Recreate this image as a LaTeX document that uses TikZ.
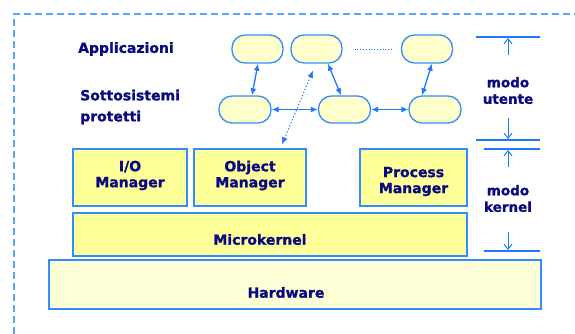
\documentclass[tikz,border=0pt]{standalone}
\usepackage{fontspec}
\setmainfont{DejaVu Sans}[BoldFeatures={FakeBold=1.2}]
\usetikzlibrary{arrows.meta,calc}
\definecolor{navy}{RGB}{10,10,128}
\definecolor{lblue}{RGB}{30,120,255}
\definecolor{bblue}{RGB}{51,140,255}
\definecolor{yel}{RGB}{255,255,153}
\definecolor{pyel}{RGB}{255,255,204}
\definecolor{hyel}{RGB}{255,255,215}
\begin{document}
\begin{tikzpicture}[x=1pt,y=1pt,
  txt/.style={text=navy,font=\bfseries\fontsize{14}{16}\selectfont,align=center,inner sep=0pt},
  modo/.style={text=navy,font=\bfseries\fontsize{13.5}{16.5}\selectfont,align=center,inner sep=0pt},
  pill/.style={draw=bblue,line width=1.3pt,fill=pyel,rounded corners=13pt,minimum width=51pt,minimum height=28pt,inner sep=0pt},
  layer/.style={draw=bblue,line width=1.3pt,fill=yel,inner sep=0pt},
  dbl/.style={{Latex[length=7pt,width=6pt]}-{Latex[length=7pt,width=6pt]},draw=lblue,line width=1.3pt},
  modearrow/.style={-{Straight Barb[length=5pt,width=8pt]},draw=lblue,line width=1pt},
  hline/.style={draw=lblue,line width=1.1pt}]
\useasboundingbox (0,0) rectangle (575,334);
\draw[draw=bblue!80,line width=1.3pt,dash pattern=on 7pt off 4pt] (14,0) -- (14,320) -- (575,320);
% left labels
\node[txt,anchor=west] (app) at (78,285) {Applicazioni};
\node[txt,anchor=west,align=left,font=\bfseries\fontsize{14}{21}\selectfont] (sotto) at (80,227) {Sottosistemi\\protetti};
% pills
\node[pill] (t1) at (257.5,285) {};
\node[pill] (t2) at (316.5,285) {};
\node[pill] (t3) at (427,285) {};
\node[pill,minimum width=52pt,minimum height=27pt] (b1) at (245,224.5) {};
\node[pill,minimum width=52pt,minimum height=27pt] (b2) at (344.5,224.5) {};
\node[pill,minimum width=52pt,minimum height=27pt] (b3) at (435,224.5) {};
\draw[draw=lblue,line width=0.8pt,dotted] ($(t2.east)+(12,0)$) -- ($(t3.west)+(-9,0)$);
\draw[dbl] ($(t1.south)+(0.5,0)$) -- ($(b1.north)+(7,0)$);
\draw[dbl] ($(t2.south)+(11.5,0)$) -- ($(b2.north)+(-3.5,0)$);
\draw[dbl] ($(t3.south)+(5,0)$) -- ($(b3.north)+(-13,0)$);
\draw[dbl] (b1.east) -- (b2.west);
\draw[dbl] (b2.east) -- (b3.west);
% layers
\node[layer,minimum width=114pt,minimum height=57pt] (io) at (130,156.5) {};
\node[layer,minimum width=112pt,minimum height=57pt] (obj) at (250,156.5) {};
\node[layer,minimum width=107pt,minimum height=57pt] (proc) at (413.5,156.5) {};
\node[layer,minimum width=394pt,minimum height=43pt] (micro) at (270,99.5) {};
\node[layer,fill=hyel,minimum width=492pt,minimum height=49pt] (hw) at (295,49.5) {};
\node[txt] (iot) at ($(io.center)+(0,2)$) {I/O\\Manager};
\node[txt] (objt) at ($(obj.center)+(0,2)$) {Object\\Manager};
\node[txt] (proct) at ($(proc.center)+(0,-4)$) {Process\\Manager};
\node[txt] (microt) at ($(micro.center)+(-10,-5)$) {Microkernel};
\node[txt] (hwt) at ($(hw.center)+(-9,-8)$) {Hardware};
\draw[dbl,dotted,line width=1pt] ($(t2.south)+(-3.5,-7)$) -- ($(obj.north)+(32,4)$);
% mode markers
\coordinate (u1) at (476,297); \coordinate (u2) at (540,297);
\coordinate (u3) at (476,194); \coordinate (u4) at (540,194);
\coordinate (k1) at (484,185); \coordinate (k2) at (540,185);
\coordinate (k3) at (484,83);  \coordinate (k4) at (540,83);
\draw[hline] (u1) -- (u2);
\draw[hline] (u3) -- (u4);
\draw[hline] (k1) -- (k2);
\draw[hline] (k3) -- (k4);
\coordinate (ua) at (508,279); \coordinate (ub) at (508,216);
\coordinate (ka) at (508,167); \coordinate (kb) at (508,102);
\draw[modearrow] (ua) -- ($(u1)!0.5!(u2)+(0,-1)$);
\draw[modearrow] (ub) -- ($(508,194)+(0,1)$);
\draw[modearrow] (ka) -- ($(508,185)+(0,-1)$);
\draw[modearrow] (kb) -- ($(508,83)+(0,1)$);
\node[modo] (ut) at (508,243.5) {modo\\utente};
\node[modo] (ke) at (508,135.5) {modo\\kernel};
\end{tikzpicture}
\end{document}
